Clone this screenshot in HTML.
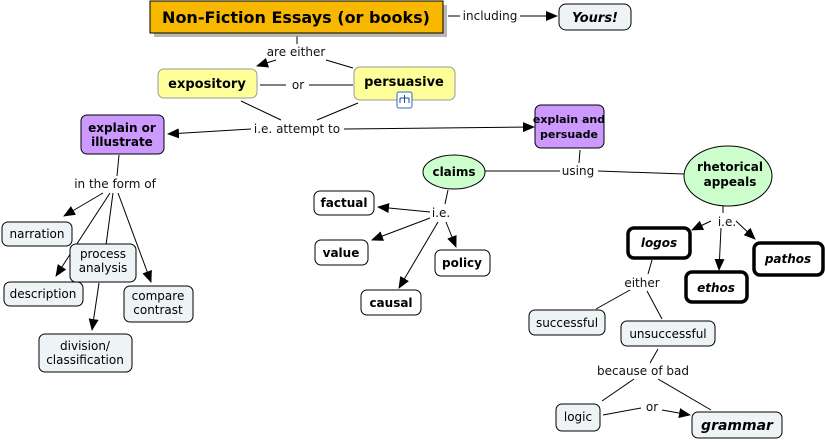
<!DOCTYPE html>
<html><head><meta charset="utf-8"><style>
html,body{margin:0;padding:0;background:#fff;}
svg{display:block;font-family:"DejaVu Sans","Liberation Sans",sans-serif;}
.l{font-size:12px;fill:#111;text-anchor:middle;}
.n{font-size:12px;fill:#000;text-anchor:middle;}
.b{font-weight:bold;}
.i{font-style:italic;}
line{stroke:#000;stroke-width:1;}
.g{fill:#eef3f5;stroke:#000;stroke-width:1;}
.w{fill:#fff;stroke:#000;stroke-width:1;}
.t{fill:#fff;stroke:#000;stroke-width:3.5;}
</style></head><body>
<svg width="825" height="442" viewBox="0 0 825 442">
<defs><marker id="a" markerWidth="12" markerHeight="10" refX="11" refY="5" orient="auto" markerUnits="userSpaceOnUse"><path d="M0,0 L12,5 L0,10 z" fill="#000"/></marker></defs>
<line x1="297" y1="36" x2="297" y2="44"/>
<line x1="276" y1="60" x2="257" y2="66" marker-end="url(#a)"/>
<line x1="326" y1="60" x2="353" y2="68"/>
<line x1="260" y1="85" x2="286" y2="85"/>
<line x1="309" y1="85" x2="353" y2="85"/>
<line x1="241" y1="101" x2="281" y2="120"/>
<line x1="358" y1="103" x2="317" y2="120"/>
<line x1="251" y1="129" x2="168" y2="134" marker-end="url(#a)"/>
<line x1="344" y1="129" x2="534" y2="127" marker-end="url(#a)"/>
<line x1="448" y1="16" x2="460" y2="16"/>
<line x1="520" y1="16" x2="557" y2="16" marker-end="url(#a)"/>
<line x1="119" y1="155" x2="117" y2="176"/>
<line x1="103" y1="193" x2="64" y2="216" marker-end="url(#a)"/>
<line x1="110" y1="193" x2="56" y2="276" marker-end="url(#a)"/>
<line x1="113" y1="193" x2="106" y2="245"/>
<line x1="99" y1="283" x2="92" y2="330" marker-end="url(#a)"/>
<line x1="118" y1="193" x2="151" y2="282" marker-end="url(#a)"/>
<line x1="580" y1="150" x2="579" y2="163"/>
<line x1="485" y1="171" x2="560" y2="171"/>
<line x1="598" y1="171" x2="684" y2="174"/>
<line x1="448" y1="190" x2="445" y2="204"/>
<line x1="430" y1="212" x2="378" y2="207" marker-end="url(#a)"/>
<line x1="430" y1="218" x2="372" y2="240" marker-end="url(#a)"/>
<line x1="438" y1="222" x2="399" y2="288" marker-end="url(#a)"/>
<line x1="446" y1="222" x2="456" y2="247" marker-end="url(#a)"/>
<line x1="723" y1="206" x2="723" y2="213"/>
<line x1="711" y1="221" x2="692" y2="230" marker-end="url(#a)"/>
<line x1="721" y1="228" x2="719" y2="270" marker-end="url(#a)"/>
<line x1="736" y1="221" x2="755" y2="239" marker-end="url(#a)"/>
<line x1="652" y1="260" x2="648" y2="274"/>
<line x1="630" y1="290" x2="596" y2="309"/>
<line x1="647" y1="291" x2="662" y2="319"/>
<line x1="658" y1="349" x2="650" y2="363"/>
<line x1="634" y1="379" x2="602" y2="401"/>
<line x1="658" y1="379" x2="711" y2="410"/>
<line x1="603" y1="415" x2="641" y2="408"/>
<line x1="662" y1="410" x2="690" y2="415" marker-end="url(#a)"/>
<rect x="154" y="5" width="293" height="32" fill="#888" opacity="0.6"/>
<rect x="150" y="1" width="293" height="32" fill="#f8b800" stroke="#000"/>
<text x="296" y="23" class="n b" style="font-size:16px">Non-Fiction Essays (or books)</text>
<rect x="559" y="4" width="72" height="26" rx="7" class="g"/>
<text x="595" y="22" class="n b i" style="font-size:13px">Yours!</text>
<rect x="158" y="69" width="99" height="29" rx="6" fill="#ffff99" stroke="#999"/>
<text x="207" y="88" class="n b" style="font-size:13px">expository</text>
<rect x="354" y="67" width="101" height="33" rx="6" fill="#ffff99" stroke="#999"/>
<text x="404" y="86" class="n b" style="font-size:13px">persuasive</text>
<rect x="397" y="92" width="15" height="16" rx="2" fill="#fff" stroke="#3366cc"/>
<path d="M404.5,95v3M400,98h9M400,98v5M404.5,98v5M409,98v5" stroke="#224499" fill="none"/>
<rect x="81" y="115" width="83" height="39" rx="6" fill="#cc99ff" stroke="#000"/>
<text x="122" y="132" class="n b">explain or</text><text x="122" y="146" class="n b">illustrate</text>
<rect x="535" y="105" width="69" height="43" rx="6" fill="#cc99ff" stroke="#000"/>
<text x="569" y="123" class="n b" style="font-size:11px">explain and</text><text x="569" y="138" class="n b" style="font-size:11px">persuade</text>
<ellipse cx="454" cy="172" rx="31" ry="17" fill="#ccffcc" stroke="#000"/>
<text x="454" y="176" class="n b">claims</text>
<ellipse cx="728" cy="176" rx="44" ry="30" fill="#ccffcc" stroke="#000"/>
<text x="730" y="171" class="n b">rhetorical</text><text x="730" y="186" class="n b">appeals</text>
<rect x="2" y="222" width="70" height="24" rx="6" class="g"/><text x="37" y="238" class="n">narration</text>
<rect x="70" y="244" width="66" height="38" rx="6" class="g"/><text x="103" y="258" class="n">process</text><text x="103" y="272" class="n">analysis</text>
<rect x="4" y="282" width="79" height="24" rx="6" class="g"/><text x="43" y="298" class="n">description</text>
<rect x="124" y="286" width="69" height="36" rx="6" class="g"/><text x="158" y="300" class="n">compare</text><text x="158" y="314" class="n">contrast</text>
<rect x="39" y="334" width="93" height="38" rx="6" class="g"/><text x="85" y="350" class="n">division/</text><text x="85" y="364" class="n">classification</text>
<rect x="314" y="191" width="60" height="24" rx="6" class="w"/><text x="344" y="207" class="n b">factual</text>
<rect x="315" y="240" width="53" height="25" rx="6" class="w"/><text x="341" y="257" class="n b">value</text>
<rect x="435" y="250" width="55" height="26" rx="6" class="w"/><text x="462" y="267" class="n b">policy</text>
<rect x="361" y="290" width="60" height="25" rx="6" class="w"/><text x="391" y="307" class="n b">causal</text>
<rect x="628" y="228" width="62" height="30" rx="6" class="t"/><text x="659" y="247" class="n b i">logos</text>
<rect x="754" y="243" width="69" height="32" rx="6" class="t"/><text x="788" y="263" class="n b i">pathos</text>
<rect x="686" y="272" width="61" height="30" rx="6" class="t"/><text x="716" y="292" class="n b i">ethos</text>
<rect x="529" y="310" width="76" height="25" rx="6" class="g"/><text x="567" y="327" class="n">successful</text>
<rect x="621" y="321" width="94" height="25" rx="6" class="g"/><text x="668" y="338" class="n">unsuccessful</text>
<rect x="556" y="404" width="44" height="27" rx="6" class="g"/><text x="578" y="421" class="n">logic</text>
<rect x="692" y="412" width="90" height="26" rx="6" class="g"/><text x="737" y="430" class="n b i" style="font-size:14px">grammar</text>
<text x="296" y="56" class="l">are either</text>
<text x="298" y="89" class="l">or</text>
<text x="297" y="133" class="l">i.e. attempt to</text>
<text x="490" y="20" class="l">including</text>
<text x="115" y="188" class="l">in the form of</text>
<text x="578" y="175" class="l">using</text>
<text x="441" y="217" class="l">i.e.</text>
<text x="727" y="226" class="l">i.e.</text>
<text x="642" y="287" class="l">either</text>
<text x="643" y="375" class="l">because of bad</text>
<text x="652" y="411" class="l">or</text>
</svg>
</body></html>
